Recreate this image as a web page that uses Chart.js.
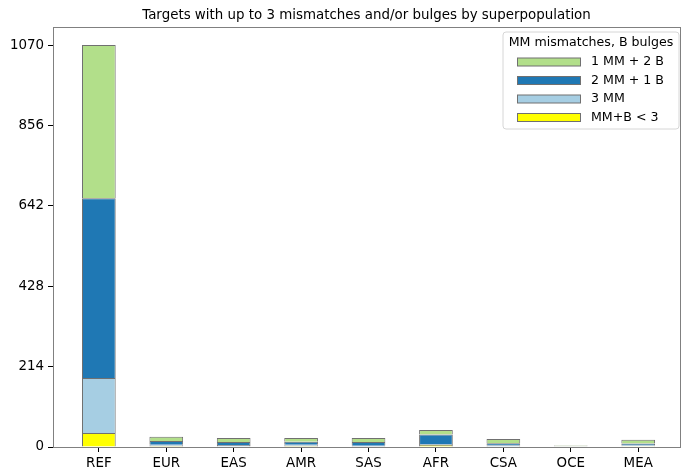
<!DOCTYPE html>
<html>
<head>
  <title>Targets by superpopulation</title>
  <script src="https://cdn.jsdelivr.net/npm/chart.js"></script>
  <style>
    body { margin: 0; background: #fff; }
    #wrap { width: 681px; height: 475px; }
  </style>
</head>
<body>
<div id="wrap"><canvas id="chart"></canvas></div>
<script>
// superpopulations and stacked counts
const populations = ['REF', 'EUR', 'EAS', 'AMR', 'SAS', 'AFR', 'CSA', 'OCE', 'MEA'];
const belowThree = [37, 3, 1, 3, 1, 5, 1, 0, 2];      // MM+B < 3
const threeMM = [147, 3, 4, 3, 2, 3, 3, 1, 2];        // 3 MM
const twoMMoneB = [478, 10, 8, 8, 10, 25, 6, 1, 5];   // 2 MM + 1 B
const oneMMtwoB = [408, 11, 11, 10, 11, 12, 11, 2, 10]; // 1 MM + 2 B
const yTicks = [0, 214, 428, 642, 856, 1070];

const FONT = 'DejaVu Sans';
const SIZE = 13.4;
const LEGEND_SIZE = 12.6;
const toPoints = arr => arr.map((v, i) => ({x: i, y: v}));

const series = [
  {label: 'MM+B < 3', data: belowThree, color: '#ffff00'},
  {label: '3 MM', data: threeMM, color: '#a6cee3'},
  {label: '2 MM + 1 B', data: twoMMoneB, color: '#1f78b4'},
  {label: '1 MM + 2 B', data: oneMMtwoB, color: '#b2df8a'}
];

// title over the plot area, and a boxed legend in the top right corner
const decorations = {
  id: 'decorations',
  afterDraw(chart) {
    const ctx = chart.ctx;
    const a = chart.chartArea;
    ctx.save();
    ctx.fillStyle = '#000';
    ctx.font = SIZE + 'px ' + FONT;
    ctx.textAlign = 'center';
    ctx.textBaseline = 'middle';
    ctx.fillText('Targets with up to 3 mismatches and/or bulges by superpopulation', (a.left + a.right) / 2, 16);

    // legend frame
    const bx = 503, by = 32, bw = 176, bh = 97;
    ctx.beginPath();
    ctx.roundRect(bx, by, bw, bh, 3);
    ctx.fillStyle = 'rgba(255,255,255,0.8)';
    ctx.fill();
    ctx.strokeStyle = '#d6d6d6';
    ctx.lineWidth = 1;
    ctx.stroke();

    ctx.font = LEGEND_SIZE + 'px ' + FONT;
    ctx.fillStyle = '#000';
    ctx.fillText('MM mismatches, B bulges', bx + bw / 2, 43);

    ctx.textAlign = 'left';
    const entries = series.slice().reverse();
    entries.forEach((s, i) => {
      const y = 62 + i * 18.5;
      ctx.fillStyle = s.color;
      ctx.fillRect(517.5, y - 4, 63, 8);
      ctx.strokeStyle = '#707070';
      ctx.strokeRect(517.5, y - 4, 63, 8);
      ctx.fillStyle = '#000';
      ctx.fillText(s.label, 591, y);
    });
    ctx.restore();
  }
};

new Chart(document.getElementById('chart'), {
  type: 'bar',
  data: {
    datasets: series.map(s => ({
      label: s.label,
      data: toPoints(s.data),
      backgroundColor: s.color,
      borderColor: '#707070',
      borderWidth: 1,
      categoryPercentage: 1,
      barPercentage: 0.5
    }))
  },
  options: {
    responsive: true,
    maintainAspectRatio: false,
    animation: false,
    layout: { padding: { top: 27, right: 1, left: 0, bottom: 0 } },
    plugins: {
      legend: { display: false },
      tooltip: { enabled: false }
    },
    scales: {
      x: {
        type: 'linear',
        stacked: true,
        offset: false,
        min: -0.68,
        max: 8.62,
        afterBuildTicks: scale => { scale.ticks = populations.map((p, i) => ({value: i})); },
        afterFit: scale => { scale.height = 28; },
        ticks: {
          callback: v => populations[v],
          color: '#000',
          font: { family: FONT, size: SIZE },
          padding: 3,
          maxRotation: 0
        },
        grid: { offset: false, drawOnChartArea: false, tickLength: 5, tickColor: '#000' },
        border: { color: '#808080' }
      },
      y: {
        stacked: true,
        min: 0,
        max: 1118,
        afterBuildTicks: scale => { scale.ticks = yTicks.map(v => ({value: v})); },
        afterFit: scale => { scale.width = 53; },
        ticks: {
          callback: v => String(v),
          color: '#000',
          font: { family: FONT, size: SIZE },
          padding: 4
        },
        grid: { drawOnChartArea: false, tickLength: 5, tickColor: '#000' },
        border: { color: '#808080' }
      },
      top: {
        position: 'top', type: 'linear', display: true,
        afterFit: scale => { scale.height = 0; },
        ticks: { display: false }, grid: { display: false },
        border: { color: '#808080' }
      },
      right: {
        position: 'right', type: 'linear', display: true,
        afterFit: scale => { scale.width = 0; },
        ticks: { display: false }, grid: { display: false },
        border: { color: '#808080' }
      }
    }
  },
  plugins: [decorations]
});
</script>
</body>
</html>
